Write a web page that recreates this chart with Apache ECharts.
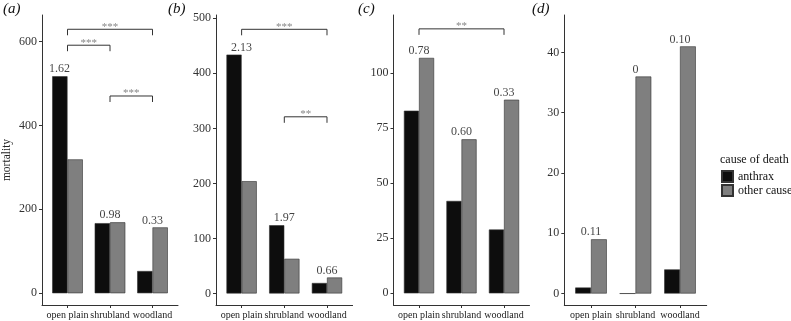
<!DOCTYPE html>
<html><head><meta charset="utf-8">
<script src="https://cdn.jsdelivr.net/npm/echarts@6/dist/echarts.min.js"></script>
<style>html,body{margin:0;padding:0;background:#fff}#c{width:791px;height:321px}</style>
</head><body><div id="c"></div>
<script>
const categories = ['open plain', 'shrubland', 'woodland'];
const anthraxA = [517, 167, 53];
const otherA   = [319, 169, 157];
const anthraxB = [434, 124, 19];
const otherB   = [204, 63, 29];
const anthraxC = [83, 42, 29];
const otherC   = [107, 70, 88];
const anthraxD = [1, 0, 4];
const otherD   = [9, 36, 41];
const ratioA = ['1.62', '0.98', '0.33'];
const ratioB = ['2.13', '1.97', '0.66'];
const ratioC = ['0.78', '0.60', '0.33'];
const ratioD = ['0.11', '0', '0.10'];
const ticksA = [0, 200, 400, 600];
const ticksB = [0, 100, 200, 300, 400, 500];
const ticksC = [0, 25, 50, 75, 100];
const ticksD = [0, 10, 20, 30, 40];
const rangeA = [-28, 663];
const rangeB = [-21, 506];
const rangeC = [-5.3, 126.5];
const rangeD = [-1.9, 46.2];
const sigA = [{from: 1, to: 3, y: 629, text: '***'}, {from: 1, to: 2, y: 591, text: '***'}, {from: 2, to: 3, y: 470, text: '***'}];
const sigB = [{from: 1, to: 3, y: 480, text: '***'}, {from: 2, to: 3, y: 321, text: '**'}];
const sigC = [{from: 1, to: 3, y: 120.2, text: '**'}];
const sigD = [];
const panelTitles = ['(a)', '(b)', '(c)', '(d)'];

const SERIF = '"Liberation Serif", "DejaVu Serif", serif';
const panels = [
  {an: anthraxA, ot: otherA, ratio: ratioA, ticks: ticksA, range: rangeA, sig: sigA, left: 40, width: 138},
  {an: anthraxB, ot: otherB, ratio: ratioB, ticks: ticksB, range: rangeB, sig: sigB, left: 216, width: 136.6},
  {an: anthraxC, ot: otherC, ratio: ratioC, ticks: ticksC, range: rangeC, sig: sigC, left: 393.5, width: 136},
  {an: anthraxD, ot: otherD, ratio: ratioD, ticks: ticksD, range: rangeD, sig: sigD, left: 564.3, width: 142.4}
];
const TOP = 15, HEIGHT = 290;
const grid = [], xAxis = [], yAxis = [], series = [];
panels.forEach((p, i) => {
  grid.push({left: p.left, top: TOP, width: p.width, height: HEIGHT});
  xAxis.push({
    type: 'value', gridIndex: i, min: 0.4, max: 3.6,
    splitLine: {show: false},
    axisLine: {onZero: false, lineStyle: {color: '#333', width: 1}},
    axisTick: {length: 3, customValues: [1, 2, 3], lineStyle: {color: '#333'}},
    axisLabel: {customValues: [1, 2, 3], formatter: v => categories[Math.round(v) - 1] || '',
      hideOverlap: false, showMinLabel: true, showMaxLabel: true,
      fontFamily: SERIF, fontSize: 10, color: '#222', margin: 5}
  });
  yAxis.push({
    type: 'value', gridIndex: i, min: p.range[0], max: p.range[1],
    splitLine: {show: false},
    axisLine: {show: true, onZero: false, lineStyle: {color: '#333', width: 1}},
    axisTick: {show: true, length: 3, customValues: p.ticks, lineStyle: {color: '#333'}},
    axisLabel: {customValues: p.ticks, fontFamily: SERIF, fontSize: 12, color: '#333', margin: 5},
    name: i === 0 ? 'mortality' : '', nameLocation: 'middle', nameGap: 29, nameRotate: 90,
    nameTextStyle: {fontFamily: SERIF, fontSize: 11.5, color: '#222'}
  });
  const unit = p.width / 3.2;
  const bw = unit * 0.355;
  series.push({
    type: 'bar', name: 'anthrax', xAxisIndex: i, yAxisIndex: i, barWidth: bw, barGap: '0%',
    data: p.an.map((v, k) => [k + 1, v]),
    itemStyle: {color: '#0d0d0d', borderColor: '#333', borderWidth: 0.6}, silent: true
  });
  series.push({
    type: 'bar', name: 'other cause', xAxisIndex: i, yAxisIndex: i, barWidth: bw, barGap: '0%',
    data: p.ot.map((v, k) => [k + 1, v]),
    itemStyle: {color: '#7f7f7f', borderColor: '#333', borderWidth: 0.6}, silent: true
  });
  series.push({
    type: 'scatter', xAxisIndex: i, yAxisIndex: i, symbolSize: 0, silent: true,
    data: p.ratio.map((t, k) => ({value: [k + 1, Math.max(p.an[k], p.ot[k])], name: t,
      label: (i === 0 && k === 0) ? {offset: [-8, 0]} : undefined})),
    label: {show: true, position: 'top', distance: 1, formatter: d => d.name,
      fontFamily: SERIF, fontSize: 12, color: '#111'}
  });
  const perPx = (p.range[1] - p.range[0]) / HEIGHT;
  p.sig.forEach(s => {
    const drop = 6 * perPx;
    series.push({
      type: 'line', xAxisIndex: i, yAxisIndex: i, symbol: 'none', silent: true,
      data: [[s.from, s.y - drop], [s.from, s.y], [s.to, s.y], [s.to, s.y - drop]],
      lineStyle: {color: '#333', width: 1}
    });
    series.push({
      type: 'scatter', xAxisIndex: i, yAxisIndex: i, symbolSize: 0, silent: true,
      data: [{value: [(s.from + s.to) / 2, s.y], name: s.text}],
      label: {show: true, position: 'top', distance: -3, formatter: d => d.name,
        fontFamily: SERIF, fontSize: 11, color: '#666'}
    });
  });
});

const titlePos = [[3, 10], [168, 10], [358, 10], [532, 10]];
const graphic = panelTitles.map((t, i) => ({
  type: 'text', left: titlePos[i][0], top: titlePos[i][1] - 8,
  style: {text: t, fontFamily: SERIF, fontStyle: 'italic', fontSize: 15, fill: '#111'}
}));
graphic.push({type: 'text', left: 720, top: 154,
  style: {text: 'cause of death', fontFamily: SERIF, fontSize: 12, fill: '#111'}});

const chart = echarts.init(document.getElementById('c'), null, {renderer: 'canvas'});
chart.setOption({
  animation: false,
  backgroundColor: '#fff',
  grid, xAxis, yAxis, series, graphic,
  legend: {
    data: ['anthrax', 'other cause'], orient: 'vertical', left: 721, top: 170,
    itemWidth: 11, itemHeight: 11, itemGap: 1, icon: 'rect', padding: 0, width: 120,
    textStyle: {fontFamily: SERIF, fontSize: 12, color: '#111', overflow: 'none', width: 80},
    selectedMode: false
  }
});
</script></body></html>
